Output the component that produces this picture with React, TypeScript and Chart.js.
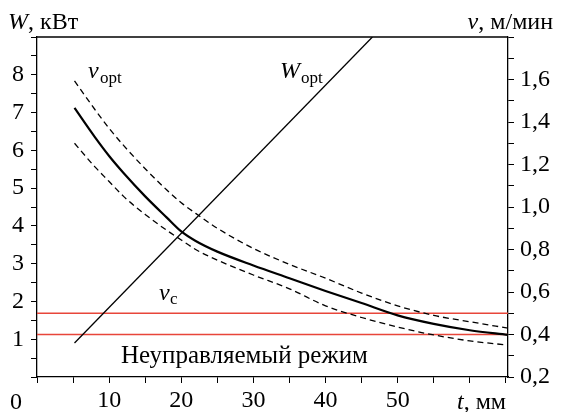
import React, { useEffect, useRef } from 'react';
import { Chart, registerables } from 'chart.js';

Chart.register(...registerables);

// thickness t, mm
const tValues = [5.2, 8, 10, 12, 15, 18, 20, 22, 25, 30, 35, 40, 45, 50, 55, 60, 65.3];
// v_opt (solid), m/min
const vOpt = [1.466, 1.33, 1.24, 1.16, 1.05, 0.95, 0.885, 0.84, 0.79, 0.725, 0.665, 0.605, 0.548, 0.49, 0.45, 0.42, 0.398];
// upper dashed bound, m/min
const vUpper = [1.593, 1.46, 1.37, 1.29, 1.18, 1.08, 1.02, 0.97, 0.9, 0.805, 0.73, 0.665, 0.595, 0.535, 0.49, 0.46, 0.43];
// lower dashed bound, m/min
const vLower = [1.3, 1.19, 1.12, 1.05, 0.965, 0.89, 0.845, 0.8, 0.75, 0.68, 0.615, 0.535, 0.48, 0.435, 0.398, 0.37, 0.35];
// W_opt line, kW
const wT = [5.2, 46.5];
const wOpt = [0.9, 9];
// v_c levels (red lines), m/min
const vcLevels = [0.5, 0.4];

// axes
const X_MIN = 0;
const X_MAX = 65.3;
const W_MIN = 0;
const W_MAX = 9;
const V_MIN = 0.2;
const V_MAX = 1.8;
const xTickValues = [0, 5, 10, 15, 20, 25, 30, 35, 40, 45, 50, 55, 60, 65];
const xTickLabels = [10, 20, 30, 40, 50];
const wTickValues = [0, 0.5, 1, 1.5, 2, 2.5, 3, 3.5, 4, 4.5, 5, 5.5, 6, 6.5, 7, 7.5, 8, 8.5, 9];
const wTickLabels = [1, 2, 3, 4, 5, 6, 7, 8];
const vTickValues = [0.2, 0.3, 0.4, 0.5, 0.6, 0.7, 0.8, 0.9, 1.0, 1.1, 1.2, 1.3, 1.4, 1.5, 1.6, 1.7, 1.8];
const vTickLabels = [0.2, 0.4, 0.6, 0.8, 1.0, 1.2, 1.4, 1.6];

const SERIF = '"Liberation Serif", "Times New Roman", serif';
const RED = '#e8463a';

function hasVal(list: number[], v: number) {
  return list.some((x) => Math.abs(x - v) < 1e-6);
}

const textPlugin = {
  id: 'texts',
  afterDraw(chart: any) {
    const { ctx, chartArea } = chart;
    ctx.save();
    // top frame line
    ctx.strokeStyle = '#000';
    ctx.lineWidth = 1.3;
    ctx.beginPath();
    ctx.moveTo(chartArea.left, chartArea.top);
    ctx.lineTo(chartArea.right, chartArea.top);
    ctx.stroke();

    ctx.fillStyle = '#000';
    ctx.textBaseline = 'alphabetic';
    ctx.textAlign = 'left';

    const seq = (x: number, y: number, parts: [string, string][]) => {
      let cx = x;
      for (const [font, s] of parts) {
        ctx.font = font;
        ctx.fillText(s, cx, y);
        cx += ctx.measureText(s).width;
      }
    };
    const measure = (parts: [string, string][]) => {
      let w = 0;
      for (const [font, s] of parts) {
        ctx.font = font;
        w += ctx.measureText(s).width;
      }
      return w;
    };
    const it = `italic 24px ${SERIF}`;
    const rg = `24px ${SERIF}`;
    const sub = `17px ${SERIF}`;

    // axis titles
    seq(8, 29, [[it, 'W'], [rg, ', кВт']]);
    const vt: [string, string][] = [[it, 'v'], [rg, ', м/мин']];
    seq(553 - measure(vt), 29, vt);
    seq(457, 409, [[it, 't'], [rg, ', мм']]);
    ctx.font = rg;
    ctx.fillText('0', 10, 409);

    // curve labels
    seq(88, 78, [[it, 'v']]);
    seq(100, 83, [[sub, 'opt']]);
    seq(280, 78, [[it, 'W']]);
    seq(301, 83, [[sub, 'opt']]);
    seq(159, 300, [[it, 'v']]);
    seq(170, 304, [[sub, 'c']]);

    ctx.font = `25px ${SERIF}`;
    ctx.fillText('Неуправляемый режим', 121, 363);
    ctx.restore();
  },
};

export default function App() {
  const ref = useRef<HTMLCanvasElement>(null);
  useEffect(() => {
    document.body.style.margin = '0';
    const canvas = ref.current!;
    const pts = (xs: number[], ys: number[]) => xs.map((x, i) => ({ x, y: ys[i] }));
    const gridCommon = {
      drawOnChartArea: false,
      drawTicks: true,
      tickLength: 6,
      color: '#000',
      lineWidth: 1,
    };
    const tickFont = { family: SERIF, size: 24 };
    const chart = new Chart(canvas, {
      type: 'line',
      data: {
        datasets: [
          {
            data: pts(tValues, vOpt),
            yAxisID: 'yv',
            borderColor: '#000',
            borderWidth: 2.2,
            pointRadius: 0,
            cubicInterpolationMode: 'monotone',
          },
          {
            data: pts(tValues, vUpper),
            yAxisID: 'yv',
            borderColor: '#000',
            borderWidth: 1.3,
            borderDash: [6, 4],
            pointRadius: 0,
            cubicInterpolationMode: 'monotone',
          },
          {
            data: pts(tValues, vLower),
            yAxisID: 'yv',
            borderColor: '#000',
            borderWidth: 1.3,
            borderDash: [6, 4],
            pointRadius: 0,
            cubicInterpolationMode: 'monotone',
          },
          {
            data: pts(wT, wOpt),
            yAxisID: 'yw',
            borderColor: '#000',
            borderWidth: 1.3,
            pointRadius: 0,
            tension: 0,
          },
          ...vcLevels.map((lv) => ({
            data: [
              { x: X_MIN, y: lv },
              { x: X_MAX, y: lv },
            ],
            yAxisID: 'yv',
            borderColor: RED,
            borderWidth: 1.5,
            pointRadius: 0,
            tension: 0,
          })),
        ],
      } as any,
      options: {
        animation: false,
        responsive: false,
        events: [],
        layout: { padding: { top: 37, left: 0, right: 0, bottom: 0 } },
        plugins: { legend: { display: false }, tooltip: { enabled: false } },
        scales: {
          x: {
            type: 'linear',
            min: X_MIN,
            max: X_MAX,
            afterBuildTicks: (s: any) => {
              s.ticks = xTickValues.map((value) => ({ value }));
            },
            afterFit: (s: any) => {
              s.height = 35;
            },
            border: { display: true, color: '#000', width: 1.3 },
            grid: gridCommon,
            ticks: {
              autoSkip: false,
              maxRotation: 0,
              color: '#000',
              font: tickFont,
              padding: 3,
              callback: (v: any) => (hasVal(xTickLabels, Number(v)) ? String(v) : ''),
            },
          },
          yw: {
            type: 'linear',
            position: 'left',
            min: W_MIN,
            max: W_MAX,
            afterBuildTicks: (s: any) => {
              s.ticks = wTickValues.map((value) => ({ value }));
            },
            afterFit: (s: any) => {
              s.width = 37;
            },
            border: { display: true, color: '#000', width: 1.3 },
            grid: gridCommon,
            ticks: {
              autoSkip: false,
              color: '#000',
              font: tickFont,
              padding: 7,
              callback: (v: any) => (hasVal(wTickLabels, Number(v)) ? String(v) : ''),
            },
          },
          yv: {
            type: 'linear',
            position: 'right',
            min: V_MIN,
            max: V_MAX,
            afterBuildTicks: (s: any) => {
              s.ticks = vTickValues.map((value) => ({ value }));
            },
            afterFit: (s: any) => {
              s.width = 53;
            },
            border: { display: true, color: '#000', width: 1.3 },
            grid: gridCommon,
            ticks: {
              autoSkip: false,
              color: '#000',
              font: tickFont,
              padding: 6,
              callback: (v: any) =>
                hasVal(vTickLabels, Number(v)) ? Number(v).toFixed(1).replace('.', ',') : '',
            },
          },
        },
      } as any,
      plugins: [textPlugin],
    });
    return () => chart.destroy();
  }, []);
  return (
    <div style={{ position: 'fixed', left: 0, top: 0, width: 561, height: 412, background: '#fff' }}>
      <canvas ref={ref} width={561} height={412} style={{ display: 'block' }} />
    </div>
  );
}
